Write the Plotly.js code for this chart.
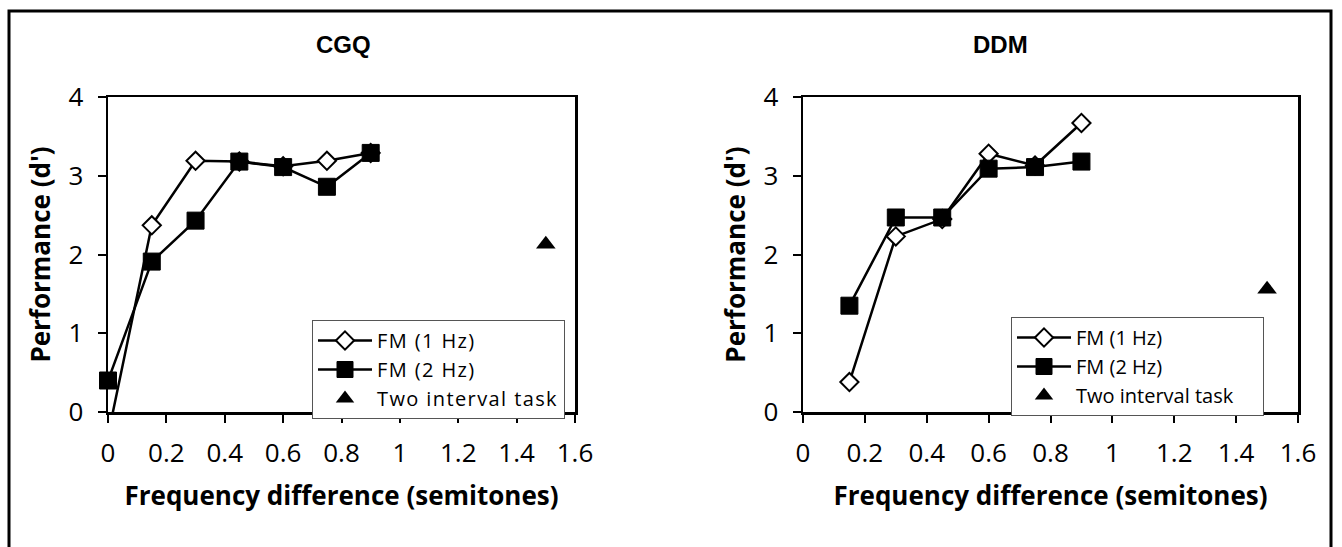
<!DOCTYPE html>
<html>
<head>
<meta charset="utf-8">
<script src="https://cdn.plot.ly/plotly-3.0.1.min.js"></script>
<style>
html,body{margin:0;padding:0;background:#fff;}
#chart{width:1342px;height:547px;}
.legendtext{letter-spacing:1.4px;}
</style>
</head>
<body>
<div id="chart"></div>
<script>
// ---- Data ----
const cgqX1 = [0, 0.15, 0.3, 0.45, 0.6, 0.75, 0.9];
const cgqFM1 = [-0.3, 2.37, 3.19, 3.18, 3.12, 3.19, 3.29];
const cgqX2 = [0, 0.15, 0.3, 0.45, 0.6, 0.75, 0.9];
const cgqFM2 = [0.40, 1.91, 2.43, 3.18, 3.11, 2.86, 3.29];
const cgqTwoX = [1.5];
const cgqTwo = [2.13];

const ddmX = [0.15, 0.3, 0.45, 0.6, 0.75, 0.9];
const ddmFM1 = [0.38, 2.23, 2.45, 3.28, 3.13, 3.67];
const ddmFM2 = [1.35, 2.47, 2.47, 3.09, 3.11, 3.18];
const ddmTwoX = [1.5];
const ddmTwo = [1.56];

const seriesNames = ['FM (1 Hz)', 'FM (2 Hz)', 'Two interval task'];
const panelTitles = ['CGQ', 'DDM'];
const xTickVals = [0, 0.2, 0.4, 0.6, 0.8, 1, 1.2, 1.4, 1.6];
const xTickText = ['0', '0.2', '0.4', '0.6', '0.8', '1', '1.2', '1.4', '1.6'];
const yTickVals = [0, 1, 2, 3, 4];
const xTitle = 'Frequency difference (semitones)';
const yTitle = "Performance (d')";

// ---- Styling ----
const tickFont = {family: 'Open Sans, sans-serif', size: 26, color: '#000'};
const titleFont = {family: 'Open Sans, sans-serif', size: 26, color: '#000', weight: 700};
const legFont = {family: 'Open Sans, sans-serif', size: 20, color: '#000'};
const headFont = {family: 'Liberation Sans Narrow, Liberation Sans, Arial, sans-serif', size: 24, color: '#000', weight: 700};

function fm1(x, y, xa, ya, leg) {
  return {x: x, y: y, xaxis: xa, yaxis: ya, legend: leg, name: seriesNames[0],
    mode: 'lines+markers', line: {color: '#000', width: 2.5},
    marker: {symbol: 'diamond', size: 14, color: '#fff', line: {color: '#000', width: 2}},
    cliponaxis: true};
}
function fm2(x, y, xa, ya, leg) {
  return {x: x, y: y, xaxis: xa, yaxis: ya, legend: leg, name: seriesNames[1],
    mode: 'lines+markers', line: {color: '#000', width: 2.5},
    marker: {symbol: 'square', size: 17, color: '#000', line: {color: '#000', width: 1}},
    cliponaxis: false};
}
function two(x, y, xa, ya, leg) {
  return {x: x, y: y, xaxis: xa, yaxis: ya, legend: leg, name: seriesNames[2],
    mode: 'markers',
    marker: {symbol: 'triangle-up', size: 17, color: '#000'},
    cliponaxis: false};
}

const traces = [
  fm1(cgqX1, cgqFM1, 'x', 'y', 'legend'),
  fm2(cgqX2, cgqFM2, 'x', 'y', 'legend'),
  two(cgqTwoX, cgqTwo, 'x', 'y', 'legend'),
  fm1(ddmX, ddmFM1, 'x2', 'y2', 'legend2'),
  fm2(ddmX, ddmFM2, 'x2', 'y2', 'legend2'),
  two(ddmTwoX, ddmTwo, 'x2', 'y2', 'legend2')
];

function xAxis(domain, anchor) {
  return {domain: domain, anchor: anchor, range: [0, 1.6], tickvals: xTickVals, ticktext: xTickText,
    showgrid: false, zeroline: false, showline: true, mirror: true, linecolor: '#000', linewidth: 2.5,
    ticks: 'outside', ticklen: 8, tickwidth: 2, tickcolor: '#000', ticklabelstandoff: 8,
    tickfont: tickFont, title: {text: xTitle, font: titleFont, standoff: 18}};
}
function yAxis(anchor) {
  return {domain: [0, 1], anchor: anchor, range: [0, 4], tickvals: yTickVals,
    showgrid: false, zeroline: false, showline: true, mirror: true, linecolor: '#000', linewidth: 2.5,
    ticks: 'outside', ticklen: 8, tickwidth: 2, tickcolor: '#000', ticklabelstandoff: 9,
    tickfont: tickFont, title: {text: yTitle, font: titleFont, standoff: 11}};
}

const L = 108, R = 1298, T = 97, B = 412, W = 1342, H = 547;
const pw = R - L, ph = B - T;
const px = v => (v - L) / pw;
const py = v => (B - v) / ph;

const legendBase = {bgcolor: '#fff', bordercolor: '#555', borderwidth: 1, font: legFont,
  itemwidth: 54, xanchor: 'left', yanchor: 'top', tracegroupgap: 0, traceorder: 'normal'};

const layout = {
  width: W, height: H,
  margin: {l: L, r: W - R, t: T, b: H - B},
  paper_bgcolor: '#fff', plot_bgcolor: '#fff',
  showlegend: true,
  xaxis: xAxis([0, px(575)], 'y'),
  yaxis: yAxis('x'),
  xaxis2: xAxis([px(803), 1], 'y2'),
  yaxis2: yAxis('x2'),
  legend: Object.assign({}, legendBase, {x: px(312), y: py(320)}),
  legend2: Object.assign({}, legendBase, {x: px(1011), y: py(317)}),
  annotations: [
    {text: panelTitles[0], xref: 'paper', yref: 'paper', x: px(343), y: py(45), xanchor: 'center', yanchor: 'middle',
     showarrow: false, font: headFont},
    {text: panelTitles[1], xref: 'paper', yref: 'paper', x: px(1000), y: py(45), xanchor: 'center', yanchor: 'middle',
     showarrow: false, font: headFont}
  ],
  shapes: [
    {type: 'rect', xref: 'paper', yref: 'paper', x0: px(9), x1: px(1331), y0: py(560), y1: py(11),
     line: {color: '#000', width: 3}, fillcolor: 'rgba(0,0,0,0)'}
  ]
};

Plotly.newPlot('chart', traces, layout, {displayModeBar: false, staticPlot: true});
</script>
</body>
</html>
